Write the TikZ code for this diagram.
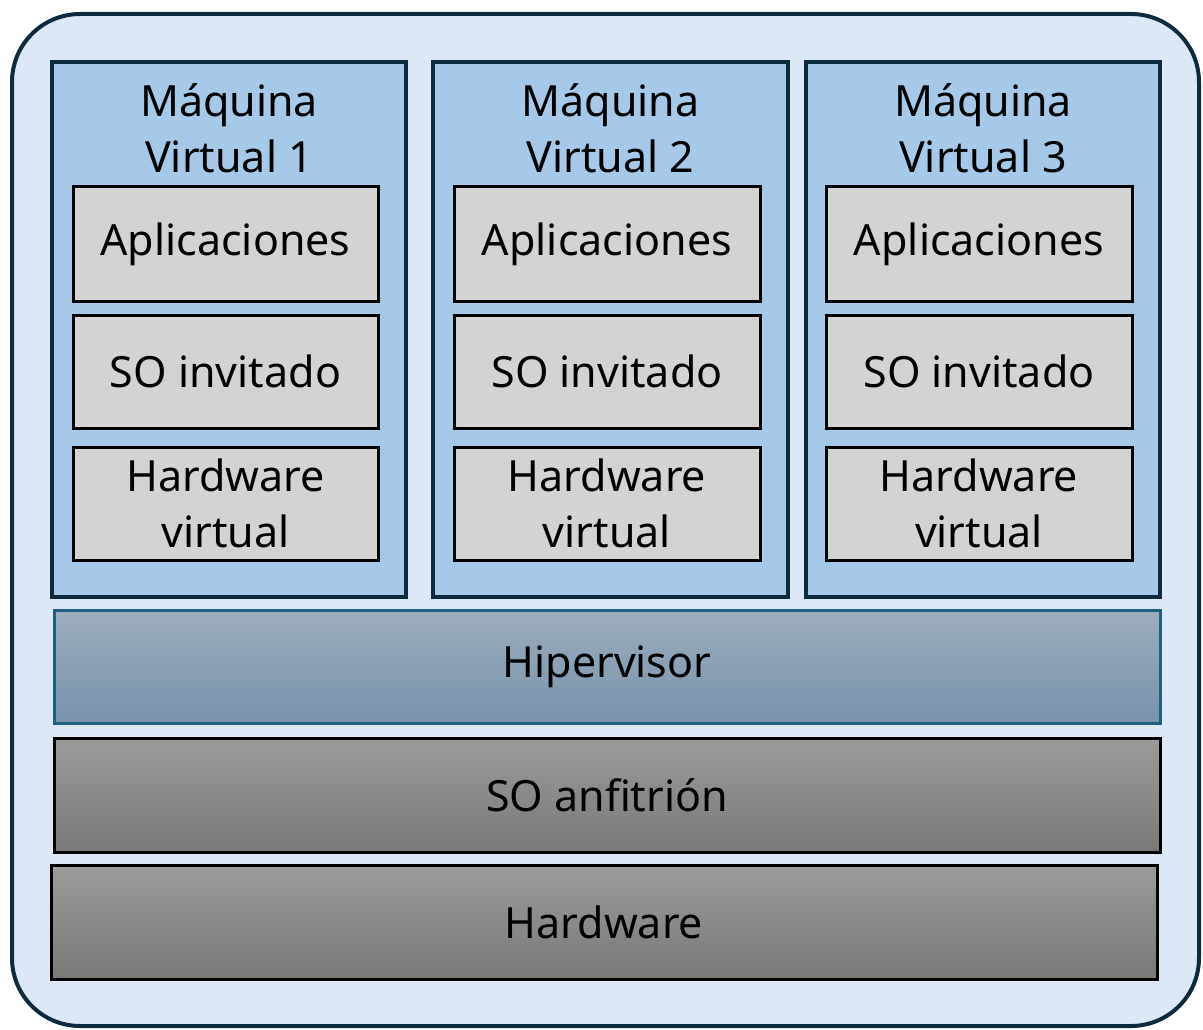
\documentclass[tikz,border=0pt]{standalone}
\usepackage{fontspec}
\setmainfont{Noto Sans}
\usetikzlibrary{positioning}
\definecolor{navy}{HTML}{0D2B3E}
\definecolor{panel}{HTML}{DCE8F5}
\definecolor{vmfill}{HTML}{A6C9EA}
\definecolor{layer}{HTML}{D3D3D3}
\definecolor{hvline}{HTML}{1F5F80}
\definecolor{hvtop}{HTML}{9CADBD}
\definecolor{hvbot}{HTML}{7893AC}
\definecolor{ostop}{HTML}{9B9B9B}
\definecolor{osbot}{HTML}{797979}
\tikzset{
  txt/.style={font=\fontsize{43}{56}\selectfont, align=center, text=black},
  vmbox/.style={draw=navy, line width=3.5pt, fill=vmfill},
  layerbox/.style={draw=black, line width=3pt, fill=layer},
  hvbox/.style={draw=hvline, line width=3pt, top color=hvtop, bottom color=hvbot},
  hostbox/.style={draw=black, line width=3pt, top color=ostop, bottom color=osbot},
}
\begin{document}
\begin{tikzpicture}[x=1pt,y=-1pt]
\useasboundingbox (0,0) rectangle (1203,1030);
% outer frame
\draw[draw=navy, line width=4pt, fill=panel, rounded corners=68pt] (12,14) rectangle (1199,1026);

% virtual machines
\foreach \i/\xl/\xr/\il/\ir in {1/52/406/73/378, 2/433/788/454/760, 3/806/1160/826/1132}{
  \draw[vmbox] (\xl,62) rectangle (\xr,597);
  \node[txt] (vm\i) at ({(\xl+\xr)/2},128) {Máquina\\Virtual \i};
  \draw[layerbox] (\il,187) rectangle (\ir,301);
  \node[txt] (app\i) at ({(\il+\ir)/2},244) {Aplicaciones};
  \draw[layerbox] (\il,315) rectangle (\ir,428);
  \node[txt] (so\i) at ({(\il+\ir)/2},371.5) {SO invitado};
  \draw[layerbox] (\il,447) rectangle (\ir,560);
  \node[txt] (hwv\i) at ({(\il+\ir)/2},503.5) {Hardware\\virtual};
}

% host layers
\draw[hvbox] (54,610) rectangle (1160,723);
\node[txt] (hv) at (607,666.5) {Hipervisor};
\draw[hostbox] (54,738) rectangle (1160,852);
\node[txt] (host) at (607,795) {SO anfitrión};
\draw[hostbox] (51,865) rectangle (1157,979);
\node[txt] (hw) at (604,922) {Hardware};
\end{tikzpicture}
\end{document}
